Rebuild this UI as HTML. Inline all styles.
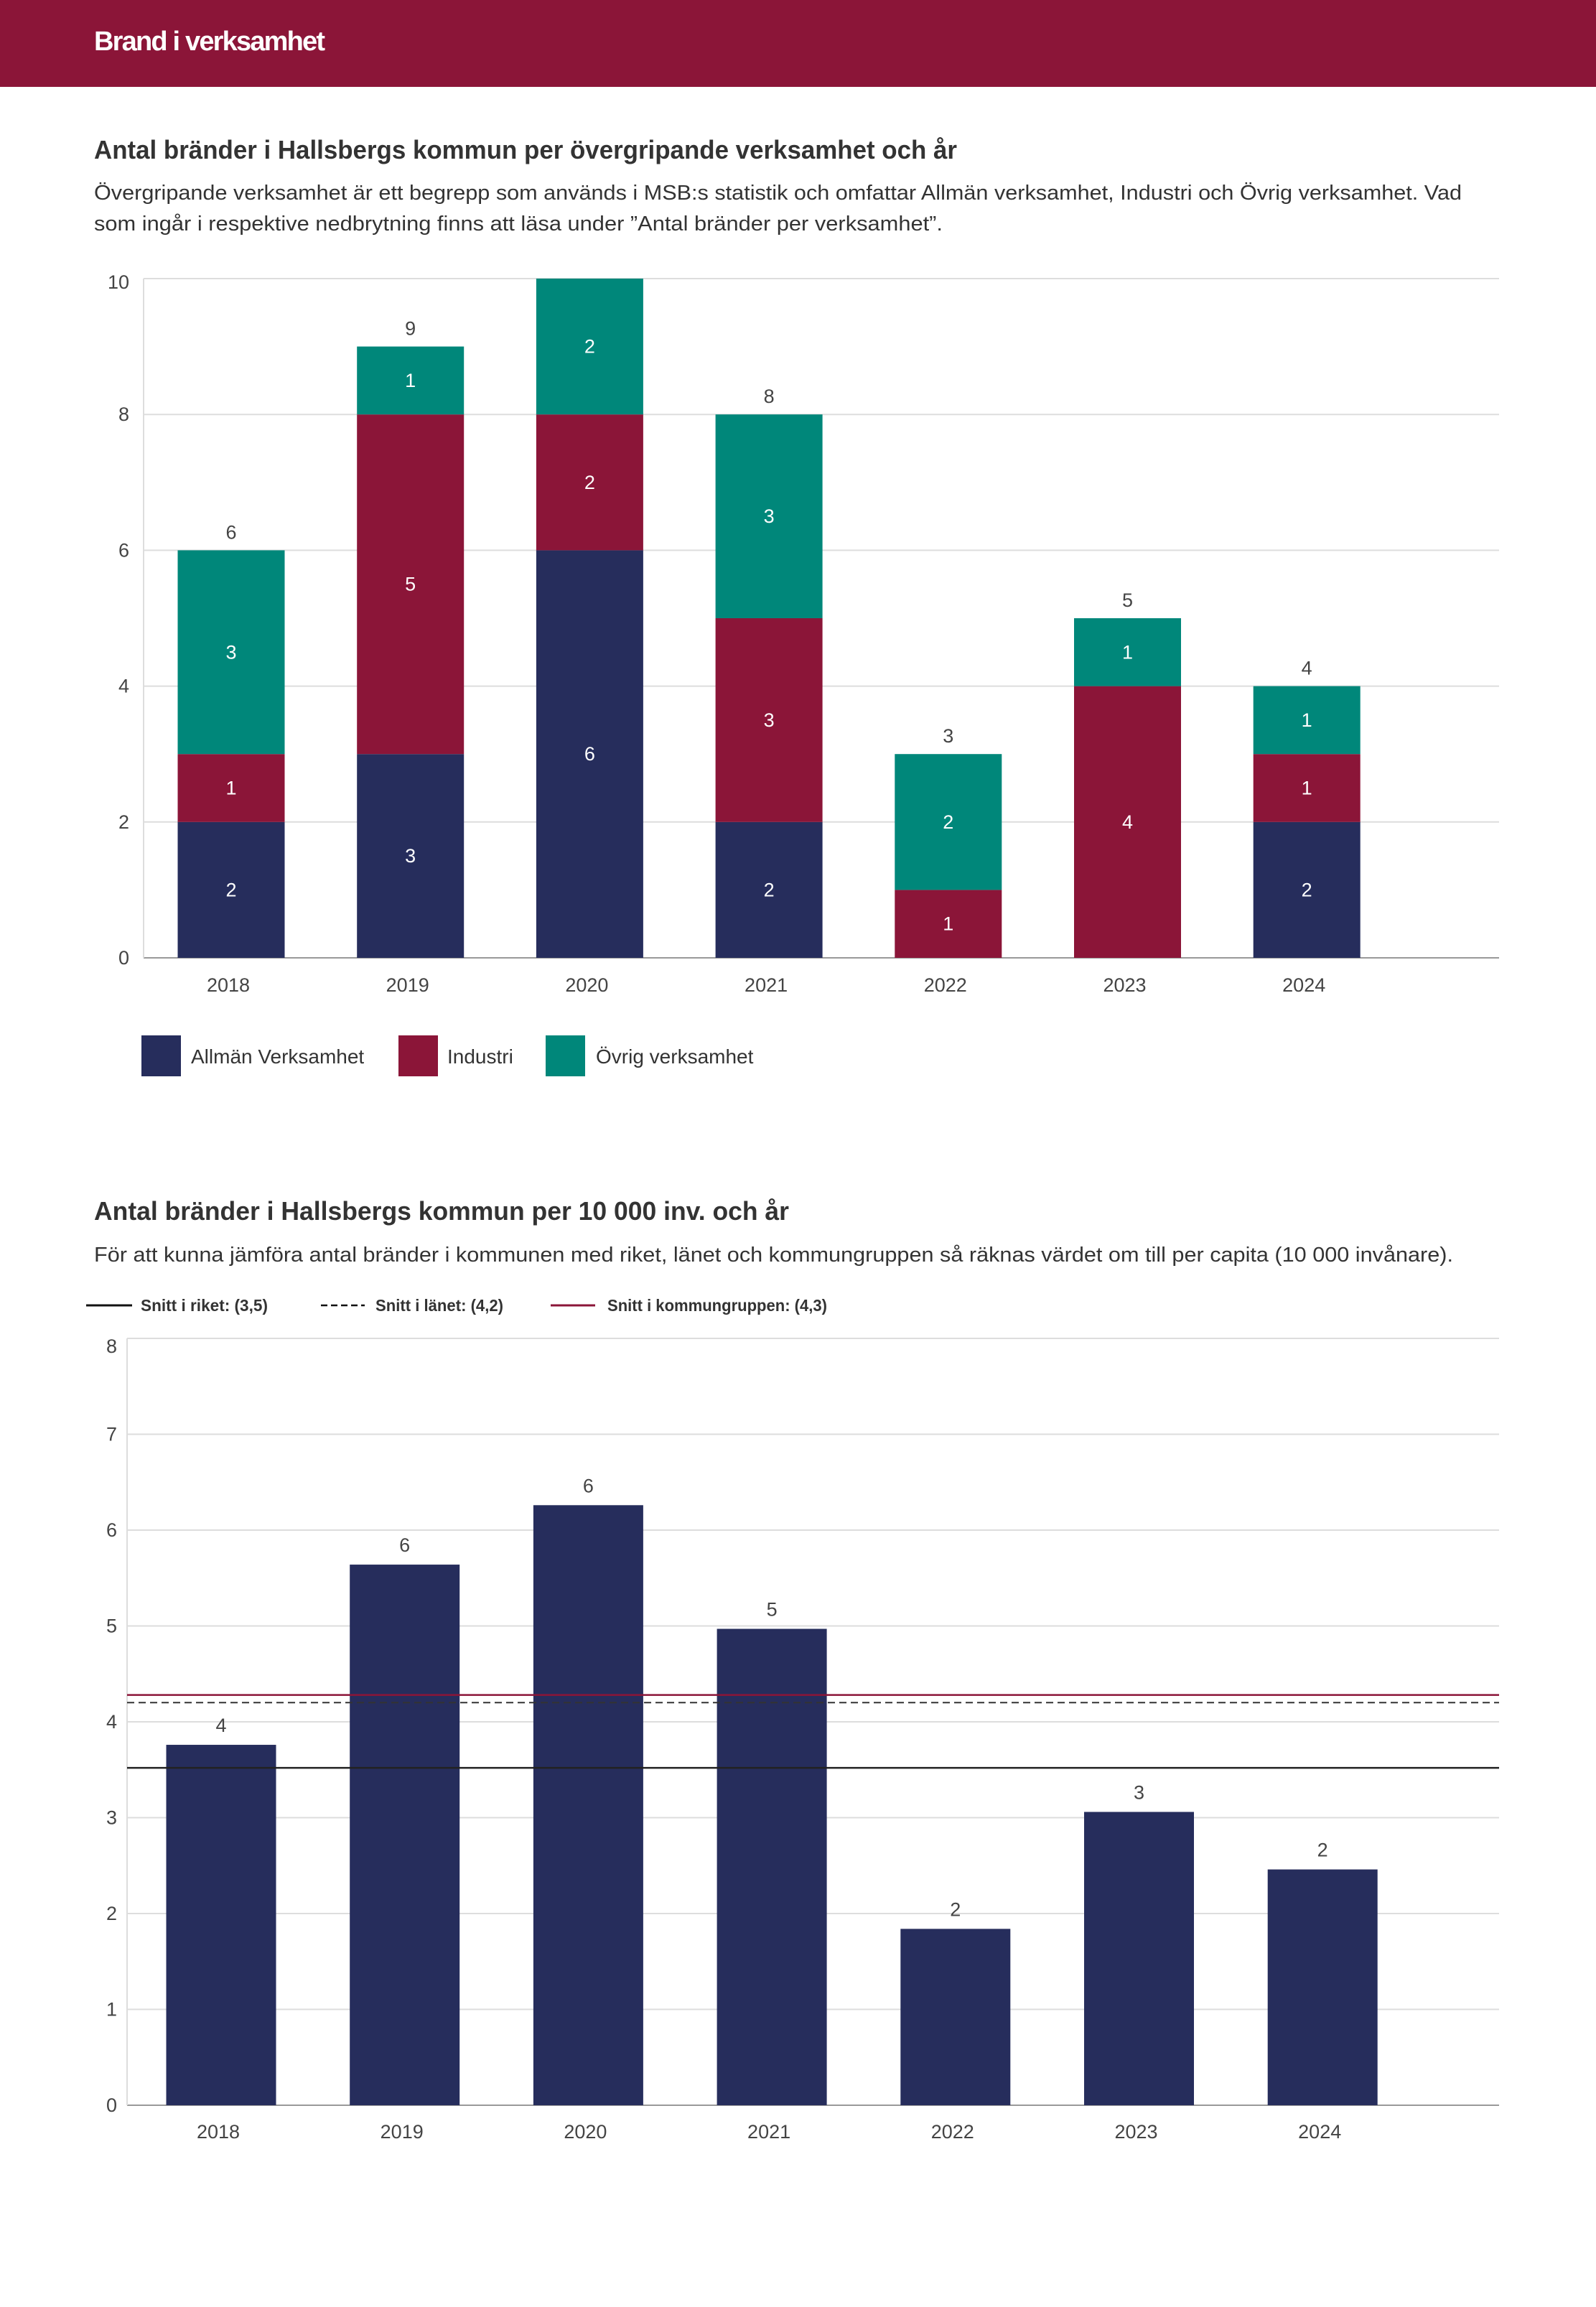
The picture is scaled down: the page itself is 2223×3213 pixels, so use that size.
<!DOCTYPE html>
<html><head><meta charset="utf-8"><style>
html,body{margin:0;padding:0;background:#fff;}
svg{display:block;font-family:"Liberation Sans",sans-serif;}
</style></head><body>
<svg id="s" width="2223" height="3213" viewBox="0 0 2223 3213" xmlns="http://www.w3.org/2000/svg">
<rect x="0" y="0" width="2223" height="121" fill="#8b1538"/>
<text x="131" y="70" font-size="38" font-weight="bold" fill="#fff" textLength="322">Brand i verksamhet</text>
<text x="131" y="221" font-size="36" font-weight="bold" fill="#333" textLength="1202" lengthAdjust="spacingAndGlyphs">Antal bränder i Hallsbergs kommun per övergripande verksamhet och år</text>
<text x="131" y="278" font-size="29" fill="#333" textLength="1905" lengthAdjust="spacingAndGlyphs">Övergripande verksamhet är ett begrepp som används i MSB:s statistik och omfattar Allmän verksamhet, Industri och Övrig verksamhet. Vad</text>
<text x="131" y="321" font-size="29" fill="#333" textLength="1182" lengthAdjust="spacingAndGlyphs">som ingår i respektive nedbrytning finns att läsa under ”Antal bränder per verksamhet”.</text>
<g id="c1"></g>
<g>
<rect x="197" y="1442" width="55" height="57" fill="#262d5c"/>
<text x="266" y="1481" font-size="28" fill="#333">Allmän Verksamhet</text>
<rect x="555" y="1442" width="55" height="57" fill="#8b1538"/>
<text x="623" y="1481" font-size="28" fill="#333">Industri</text>
<rect x="760" y="1442" width="55" height="57" fill="#00877a"/>
<text x="830" y="1481" font-size="28" fill="#333">Övrig verksamhet</text>
</g>
<text x="131" y="1699" font-size="36" font-weight="bold" fill="#333" textLength="968" lengthAdjust="spacingAndGlyphs">Antal bränder i Hallsbergs kommun per 10 000 inv. och år</text>
<text x="131" y="1757" font-size="29" fill="#333" textLength="1893" lengthAdjust="spacingAndGlyphs">För att kunna jämföra antal bränder i kommunen med riket, länet och kommungruppen så räknas värdet om till per capita (10 000 invånare).</text>
<g>
<line x1="120" y1="1818" x2="184" y2="1818" stroke="#111" stroke-width="3"/>
<text x="196" y="1826" font-size="23" font-weight="bold" fill="#333" textLength="177" lengthAdjust="spacingAndGlyphs">Snitt i riket: (3,5)</text>
<line x1="447" y1="1818" x2="508" y2="1818" stroke="#111" stroke-width="2.5" stroke-dasharray="9,5"/>
<text x="523" y="1826" font-size="23" font-weight="bold" fill="#333" textLength="178" lengthAdjust="spacingAndGlyphs">Snitt i länet: (4,2)</text>
<line x1="767" y1="1818" x2="829" y2="1818" stroke="#8b1538" stroke-width="3"/>
<text x="846" y="1826" font-size="23" font-weight="bold" fill="#333" textLength="306" lengthAdjust="spacingAndGlyphs">Snitt i kommungruppen: (4,3)</text>
</g>
<g id="c2"></g>
</svg>
<script>
const NS="http://www.w3.org/2000/svg";
const years=["2018","2019","2020","2021","2022","2023","2024"];
const allman=[2,3,6,2,0,0,2];
const industri=[1,5,2,3,1,4,1];
const ovrig=[3,1,2,3,2,1,1];
const ticks1=[0,2,4,6,8,10];
const perCapita=[3.76,5.64,6.26,4.97,1.84,3.06,2.46];
const perCapitaLabels=["4","6","6","5","2","3","2"];
const ticks2=[0,1,2,3,4,5,6,7,8];
const avgRiket=[3.52];
const avgLanet=[4.2];
const avgKommungrupp=[4.28];

function mk(parent,tag,attrs,text){const e=document.createElementNS(NS,tag);for(const k in attrs)e.setAttribute(k,attrs[k]);if(text!==undefined)e.textContent=text;parent.appendChild(e);return e;}

(function(){
const g=document.getElementById('c1');
const x0=200,x1=2088,yTop=388,yBot=1334,max=10;
const y=v=>yBot-(v/max)*(yBot-yTop);
const cx=i=>322+i*249.7;
const bw=149;
ticks1.forEach(t=>{
 const l=mk(g,'line',{x1:x0,x2:x1,y1:y(t),y2:y(t),stroke:t===0?'#999':'#ddd','stroke-width':2});
 
 
 const tx=mk(g,'text',{x:180,y:(t===max?y(t)+14:y(t)+9),'font-size':27,fill:'#444','text-anchor':'end'},String(t));
 
 
});
const ax=mk(g,'line',{x1:x0,x2:x0,y1:yTop,y2:yBot,stroke:'#ddd','stroke-width':2});


const series=[[allman,'#262d5c','allman'],[industri,'#8b1538','industri'],[ovrig,'#00877a','ovrig']];
years.forEach((yr,i)=>{
 let base=0;
 series.forEach(([arr,col,nm])=>{
  const v=arr[i]; if(!v) return;
  const r=mk(g,'rect',{x:cx(i)-bw/2,y:y(base+v),width:bw,height:y(base)-y(base+v),fill:col});
  
  
  const t=mk(g,'text',{x:cx(i),y:(y(base)+y(base+v))/2+9,'font-size':27,fill:'#fff','text-anchor':'middle'},String(v));
  
  
  base+=v;
 });
 if(base<max){
  const tot=mk(g,'text',{x:cx(i),y:y(base)-16,'font-size':27,fill:'#444','text-anchor':'middle'},String(base));
  
  
 }
 const xl=mk(g,'text',{x:cx(i)-4,y:1381,'font-size':27,fill:'#444','text-anchor':'middle'},yr);
 
 
});
})();

(function(){
const g=document.getElementById('c2');
const x0=177,x1=2088,yTop=1864,yBot=2932,max=8;
const y=v=>yBot-(v/max)*(yBot-yTop);
const cx=i=>308+i*255.7;
const bw=153;
ticks2.forEach(t=>{
 const l=mk(g,'line',{x1:x0,x2:x1,y1:y(t),y2:y(t),stroke:t===0?'#999':'#ddd','stroke-width':2});
 
 
 const tx=mk(g,'text',{x:163,y:(t===max?y(t)+20:y(t)+9),'font-size':27,fill:'#444','text-anchor':'end'},String(t));
 
 
});
const ax=mk(g,'line',{x1:x0,x2:x0,y1:yTop,y2:yBot,stroke:'#ddd','stroke-width':2});


years.forEach((yr,i)=>{
 const v=perCapita[i];
 const r=mk(g,'rect',{x:cx(i)-bw/2,y:y(v),width:bw,height:yBot-y(v),fill:'#262d5c'});
 
 
 const t=mk(g,'text',{x:cx(i),y:y(v)-18,'font-size':27,fill:'#444','text-anchor':'middle'},perCapitaLabels[i]);
 
 
 const xl=mk(g,'text',{x:cx(i)-4,y:2978,'font-size':27,fill:'#444','text-anchor':'middle'},yr);
 
 
});
const l1=mk(g,'line',{x1:x0,x2:x1,y1:y(avgRiket[0]),y2:y(avgRiket[0]),stroke:'#222','stroke-width':2.5});


const l2=mk(g,'line',{x1:x0,x2:x1,y1:y(avgLanet[0]),y2:y(avgLanet[0]),stroke:'#333','stroke-width':2,'stroke-dasharray':'10,6'});


const l3=mk(g,'line',{x1:x0,x2:x1,y1:y(avgKommungrupp[0]),y2:y(avgKommungrupp[0]),stroke:'#8b1538','stroke-width':2.5});


})();
</script>
</body></html>
